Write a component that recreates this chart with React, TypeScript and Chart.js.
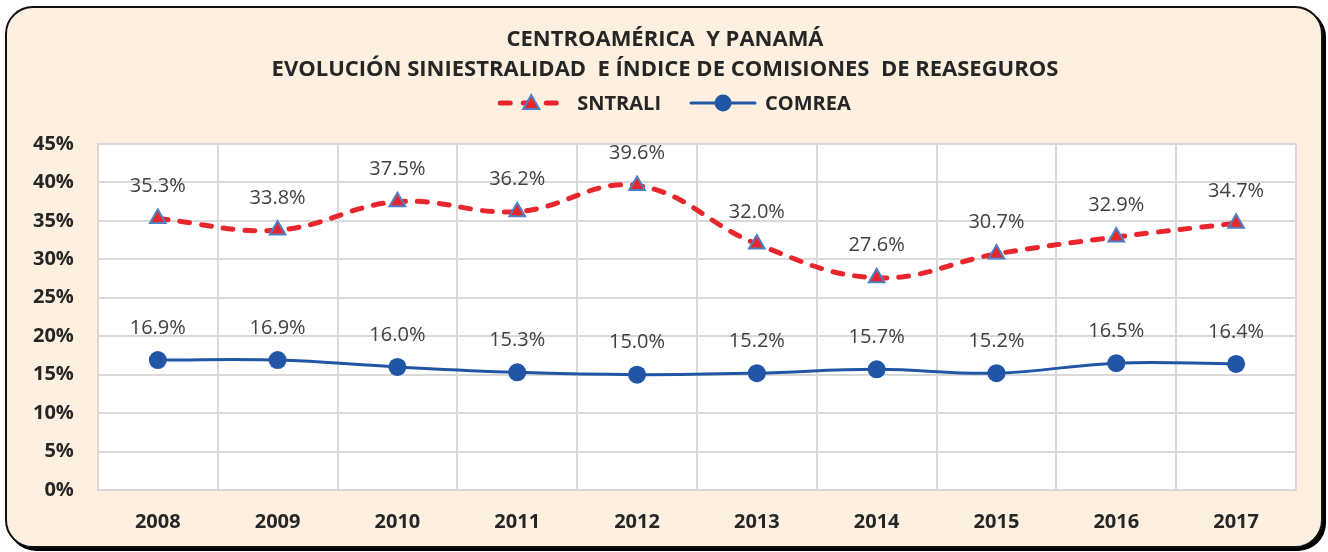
import React, { useEffect, useRef } from "react";
import { Chart, registerables } from "chart.js";

Chart.register(...registerables);

const titleLines = ["CENTROAMÉRICA  Y PANAMÁ", "EVOLUCIÓN SINIESTRALIDAD  E ÍNDICE DE COMISIONES  DE REASEGUROS"];
const years = ["2008", "2009", "2010", "2011", "2012", "2013", "2014", "2015", "2016", "2017"];
const sntrali = [35.3, 33.8, 37.5, 36.2, 39.6, 32.0, 27.6, 30.7, 32.9, 34.7];
const comrea = [16.9, 16.9, 16.0, 15.3, 15.0, 15.2, 15.7, 15.2, 16.5, 16.4];
const yTicks = [0, 5, 10, 15, 20, 25, 30, 35, 40, 45];

const RED = "#e8262e";
const TRI_BORDER = "#4f7fc4";
const BLUE = "#2155a5";
const TEXT = "#262626";
const FONT = "'Open Sans', 'DejaVu Sans', sans-serif";

function drawRedIcon(g: CanvasRenderingContext2D, x0: number, x1: number, cy: number) {
  g.save();
  g.strokeStyle = RED;
  g.lineWidth = 5;
  g.lineCap = "round";
  g.setLineDash([10, 13]);
  g.beginPath();
  g.moveTo(x0 + 3, cy);
  g.lineTo(x1, cy);
  g.stroke();
  g.setLineDash([]);
  const cx = (x0 + x1) / 2;
  g.beginPath();
  g.moveTo(cx, cy - 8);
  g.lineTo(cx + 8, cy + 6);
  g.lineTo(cx - 8, cy + 6);
  g.closePath();
  g.fillStyle = RED;
  g.fill();
  g.lineWidth = 2;
  g.strokeStyle = TRI_BORDER;
  g.stroke();
  g.restore();
}

function drawBlueIcon(g: CanvasRenderingContext2D, x0: number, x1: number, cy: number) {
  g.save();
  g.strokeStyle = BLUE;
  g.lineWidth = 3;
  g.lineCap = "round";
  g.beginPath();
  g.moveTo(x0 + 2, cy);
  g.lineTo(x1 - 2, cy);
  g.stroke();
  g.beginPath();
  g.arc((x0 + x1) / 2, cy, 8.5, 0, Math.PI * 2);
  g.fillStyle = BLUE;
  g.fill();
  g.restore();
}

const headerPlugin = {
  id: "header",
  afterDraw(chart: any) {
    const ctx = chart.ctx as CanvasRenderingContext2D;
    ctx.save();
    ctx.fillStyle = TEXT;
    ctx.textAlign = "center";
    ctx.textBaseline = "middle";
    ctx.font = `700 22px ${FONT}`;
    ctx.fillText(titleLines[0], 665, 40);
    ctx.fillText(titleLines[1], 665, 70);

    // legend
    const ly = 103;
    ctx.font = `700 20px ${FONT}`;
    ctx.textAlign = "left";
    const names = chart.data.datasets.map((d: any) => d.label);
    const iconW = 68;
    const w0 = ctx.measureText(names[0]).width;
    const w1 = ctx.measureText(names[1]).width;
    const total = iconW + 12 + w0 + 28 + iconW + 8 + w1;
    let x = 674 - total / 2;
    drawRedIcon(ctx, x, x + iconW, ly);
    x += iconW + 12;
    ctx.fillText(names[0], x, ly + 1);
    x += w0 + 28;
    drawBlueIcon(ctx, x, x + iconW, ly);
    x += iconW + 8;
    ctx.fillText(names[1], x, ly + 1);
    ctx.restore();
  },
};

const valueLabels = {
  id: "valueLabels",
  afterDatasetsDraw(chart: any) {
    const ctx = chart.ctx;
    ctx.save();
    ctx.font = `400 20px ${FONT}`;
    ctx.fillStyle = "#404040";
    ctx.textAlign = "center";
    ctx.textBaseline = "middle";
    chart.data.datasets.forEach((ds: any, i: number) => {
      const meta = chart.getDatasetMeta(i);
      meta.data.forEach((pt: any, j: number) => {
        const v = ds.data[j];
        ctx.fillText(`${v.toFixed(1)}%`, pt.x, pt.y - 32);
      });
    });
    ctx.restore();
  },
};

export default function App() {
  const ref = useRef<HTMLCanvasElement>(null);
  useEffect(() => {
    const chart = new Chart(ref.current!, {
      type: "line",
      data: {
        labels: years,
        datasets: [
          {
            label: "SNTRALI",
            data: sntrali,
            borderColor: RED,
            borderWidth: 5,
            borderDash: [10, 12],
            borderCapStyle: "round",
            tension: 0.4,
            pointStyle: "triangle",
            pointRadius: 9,
            pointBackgroundColor: RED,
            pointBorderColor: TRI_BORDER,
            pointBorderWidth: 2,
          },
          {
            label: "COMREA",
            data: comrea,
            borderColor: BLUE,
            borderWidth: 3,
            tension: 0.4,
            pointStyle: "circle",
            pointRadius: 9,
            pointBackgroundColor: BLUE,
            pointBorderColor: BLUE,
            pointBorderWidth: 0,
          },
        ],
      },
      options: {
        animation: false,
        responsive: false,
        layout: { padding: { left: 9, right: 32, top: 144, bottom: -2 } },
        plugins: {
          title: { display: false },
          legend: { display: false },
          tooltip: { enabled: false },
        },
        scales: {
          x: {
            offset: true,
            grid: { offset: true, color: "#d9d9d9", lineWidth: 2, drawTicks: false },
            border: { color: "#d9d9d9", width: 2 },
            ticks: {
              color: TEXT,
              font: { family: FONT, size: 20, weight: "bold" },
              padding: 20,
            },
          },
          y: {
            min: 0,
            max: 45,
            afterBuildTicks: (axis: any) => {
              axis.ticks = yTicks.map((v) => ({ value: v }));
            },
            grid: { color: "#d9d9d9", lineWidth: 2, drawTicks: false },
            border: { color: "#d9d9d9", width: 2 },
            ticks: {
              color: TEXT,
              font: { family: FONT, size: 20, weight: "bold" },
              padding: 24,
              callback: (v: any) => `${v}%`,
            },
          },
        },
      },
      plugins: [valueLabels, headerPlugin],
    });
    return () => chart.destroy();
  }, []);

  return (
    <div style={{ position: "fixed", left: 0, top: 0, width: 1328, height: 552, background: "#ffffff" }}>
      <div
        style={{
          position: "absolute",
          left: 5,
          top: 6,
          width: 1314,
          height: 538,
          background: "#fdf0e0",
          border: "2px solid #111",
          borderRadius: 28,
          boxShadow: "3px 3px 0 #000",
        }}
      />
      <div
        style={{
          position: "absolute",
          left: 97,
          top: 144,
          width: 1199,
          height: 346,
          background: "#ffffff",
        }}
      />
      <canvas ref={ref} width={1328} height={552} style={{ position: "absolute", left: 0, top: 0 }} />
    </div>
  );
}
